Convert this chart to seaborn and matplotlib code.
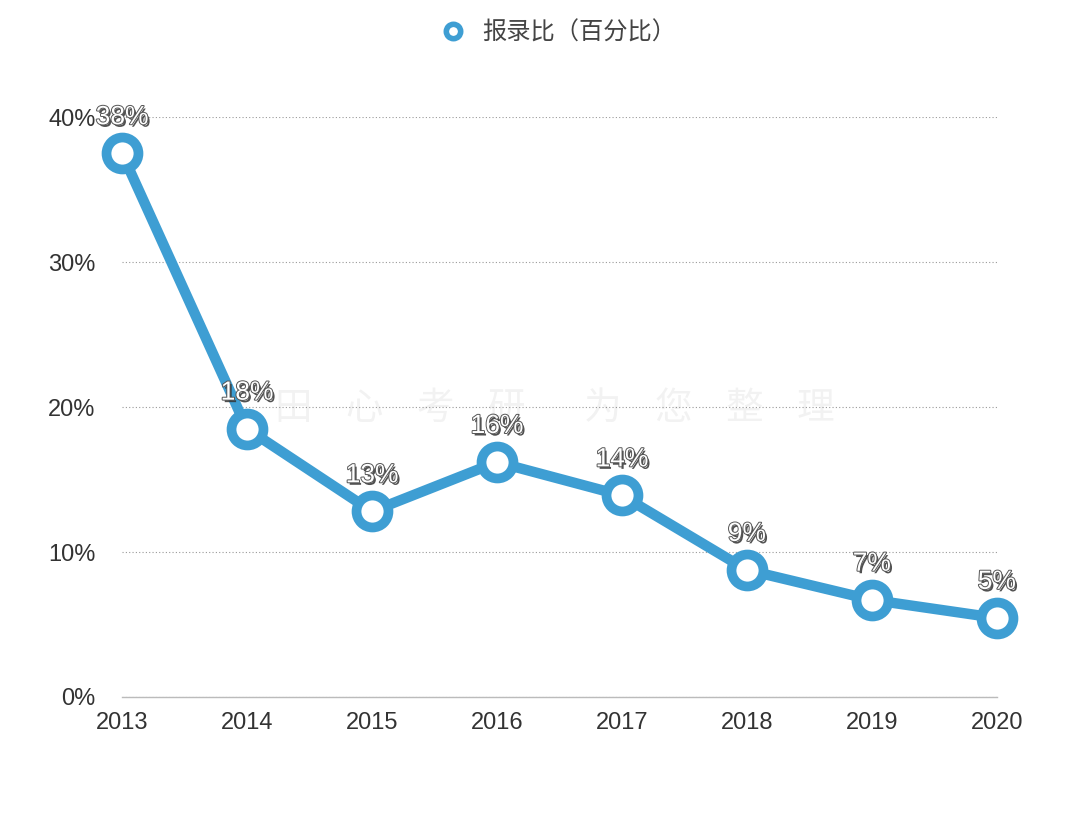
import matplotlib
matplotlib.use("Agg")
import matplotlib.pyplot as plt
import matplotlib.patheffects as pe
import seaborn as sns
import pandas as pd

years = [2013, 2014, 2015, 2016, 2017, 2018, 2019, 2020]
ratio = [37.5, 18.5, 12.8, 16.2, 13.9, 8.76, 6.7, 5.45]
labels = ["38%", "18%", "13%", "16%", "14%", "9%", "7%", "5%"]
yticks = [0, 10, 20, 30, 40]
series_name = "报录比（百分比）"

sns.set_style("white")
plt.rcParams["font.family"] = ["Liberation Sans", "Noto Sans CJK SC", "DejaVu Sans"]

df = pd.DataFrame({"year": years, "ratio": ratio})
blue = "#3e9ed3"

fig = plt.figure(figsize=(10.8, 8.13), dpi=100)
ax = fig.add_axes([0.113, 0.1427, 0.81, 0.7133])

# faint watermark behind the chart
fig.text(0.514, 0.498, "田    心    考    研       为    您    整    理", ha="center", va="center",
         fontsize=27, color="#000000", alpha=0.05, family="Noto Sans CJK SC")

sns.lineplot(data=df, x="year", y="ratio", ax=ax, color=blue, linewidth=7.5,
             marker="o", markersize=23, markerfacecolor="white",
             markeredgecolor=blue, markeredgewidth=7, clip_on=False,
             label=series_name, zorder=5)

# data labels: white text with dark drop shadow
shadow = [pe.withSimplePatchShadow(offset=(1.5, -1.8), shadow_rgbFace="#333333", alpha=0.85),
          pe.withStroke(linewidth=1.4, foreground="#555555")]
for x, y, t in zip(years, ratio, labels):
    ax.annotate(t, (x, y), xytext=(0, 26), textcoords="offset points",
                ha="center", va="center", fontsize=19, color="white",
                path_effects=shadow, zorder=10)

ax.set_xlim(2013, 2020)
ax.set_ylim(0, 40)
ax.set_xticks(years)
ax.set_xticklabels([str(y) for y in years], fontsize=17, color="#333333")
ax.set_yticks(yticks)
ax.set_yticklabels([f"{v}%" for v in yticks], fontsize=17, color="#333333")
ax.tick_params(axis="both", length=0)
ax.tick_params(axis="x", pad=11)
ax.tick_params(axis="y", pad=19)
ax.yaxis.grid(True, linestyle=(0, (1, 2)), color="#999999", linewidth=0.8)
for s in ["top", "right", "left"]:
    ax.spines[s].set_visible(False)
ax.spines["bottom"].set_color("#bbbbbb")
ax.spines["bottom"].set_linewidth(1)
ax.set_xlabel("")
ax.set_ylabel("")

leg = ax.legend(loc="center", bbox_to_anchor=(0.5, 1.145), frameon=False,
                fontsize=17.5, handlelength=0.8, markerscale=0.45, handletextpad=0.8)
for t in leg.get_texts():
    t.set_color("#444444")
for h in leg.legend_handles:
    h.set_linewidth(0)
    h.set_markeredgewidth(4)

fig.savefig("out.png", dpi=100)
